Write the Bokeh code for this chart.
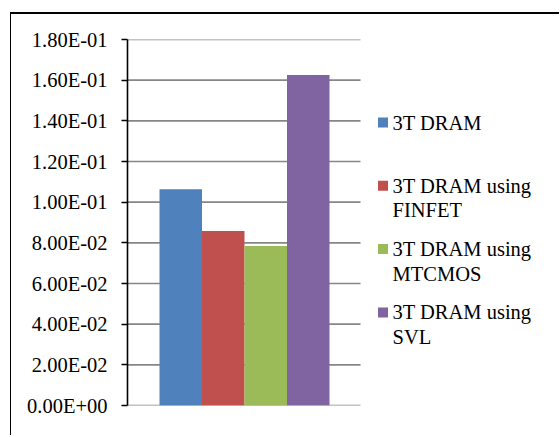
from bokeh.plotting import figure
from bokeh.models import Range1d, FixedTicker, CustomJSTickFormatter
from bokeh.embed import file_html
from bokeh.resources import INLINE
from bokeh.core.properties import value

# ---- data -------------------------------------------------------------
series_names = [
    "3T DRAM",
    "3T DRAM using\nFINFET",
    "3T DRAM using\nMTCMOS",
    "3T DRAM using\nSVL",
]
series_values = [0.1063, 0.0858, 0.0785, 0.1625]
series_colors = ["#4F81BD", "#C0504D", "#9BBB59", "#8064A2"]

y_ticks = [0.0, 0.02, 0.04, 0.06, 0.08, 0.10, 0.12, 0.14, 0.16, 0.18]
y_tick_labels = [
    "0.00E+00", "2.00E-02", "4.00E-02", "6.00E-02", "8.00E-02",
    "1.00E-01", "1.20E-01", "1.40E-01", "1.60E-01", "1.80E-01",
]

# ---- layout (pixels) --------------------------------------------------
FONT = "Liberation Serif"
FONT_SIZE = "20.5px"
FIG_W, FIG_H = 549, 423
LEFT, TOP, BOTTOM = 116, 25, 32
FRAME_W = FIG_W - LEFT
FRAME_H = FIG_H - TOP - BOTTOM
PLOT_W = 233          # width of the gridded plot area, from the axis
BAR_W = 42.5
GROUP_C = 117.0
LEG_SQ_X = 255.5
LEG_TXT_X = 265.0
LEG_Y0 = 83.0
LEG_STEP = 63.3
LINE_STEP = 24.5

p = figure(
    width=FIG_W, height=FIG_H,
    x_range=Range1d(0, FRAME_W),
    y_range=Range1d(y_ticks[0], y_ticks[-1]),
    output_backend="svg", toolbar_location=None,
    min_border_left=LEFT, min_border_right=0,
    min_border_top=TOP, min_border_bottom=BOTTOM,
)
p.extra_y_ranges = {"px": Range1d(start=FRAME_H, end=0)}
p.margin = (12, 0, 0, 10)
p.styles = {"border-top": "2px solid #000000", "border-left": "1px solid #000000"}
p.outline_line_color = None
p.background_fill_color = "white"
p.border_fill_color = "white"
p.xgrid.visible = False
p.ygrid.visible = False
p.xaxis.visible = False

# value axis
ax = p.yaxis[0]
ax.ticker = FixedTicker(ticks=y_ticks)
ax.formatter = CustomJSTickFormatter(
    args=dict(tick_vals=y_ticks, tick_text=y_tick_labels),
    code="""
        const i = tick_vals.findIndex(t => Math.abs(t - tick) < 1e-9);
        return i >= 0 ? tick_text[i] : "";
    """,
)
ax.axis_line_color = "black"
ax.axis_line_width = 1.6
ax.major_tick_line_color = "black"
ax.major_tick_line_width = 1.6
ax.major_tick_out = 6
ax.major_tick_in = 0
ax.minor_tick_line_color = None
ax.major_label_standoff = 14
ax.major_label_text_font = FONT
ax.major_label_text_font_size = FONT_SIZE
ax.major_label_text_color = "black"

# horizontal grid lines across the plot area only
p.segment(x0=0, x1=PLOT_W, y0=y_ticks, y1=y_ticks,
          line_color="#868686", line_width=1.7)

# clustered bars
xs = [GROUP_C + (i - (len(series_values) - 1) / 2) * BAR_W
      for i in range(len(series_values))]
p.vbar(x=xs, top=series_values, bottom=0, width=BAR_W,
       fill_color=series_colors, line_color=None)

# legend: colour squares and wrapped labels
leg_y = [LEG_Y0 + i * LEG_STEP for i in range(len(series_names))]
p.scatter(x=[LEG_SQ_X] * len(series_names), y=leg_y, marker="square",
          size=10, fill_color=series_colors, line_color=None,
          y_range_name="px")

tx, ty, tt = [], [], []
for y0, name in zip(leg_y, series_names):
    for k, line in enumerate(name.split("\n")):
        tx.append(LEG_TXT_X)
        ty.append(y0 + k * LINE_STEP)
        tt.append(line)
p.text(x=tx, y=ty, text=tt, text_font=value(FONT),
       text_font_size=value(FONT_SIZE), text_color="black",
       text_align="left", text_baseline="middle", y_range_name="px")

open("out.html", "w").write(file_html(p, INLINE))
